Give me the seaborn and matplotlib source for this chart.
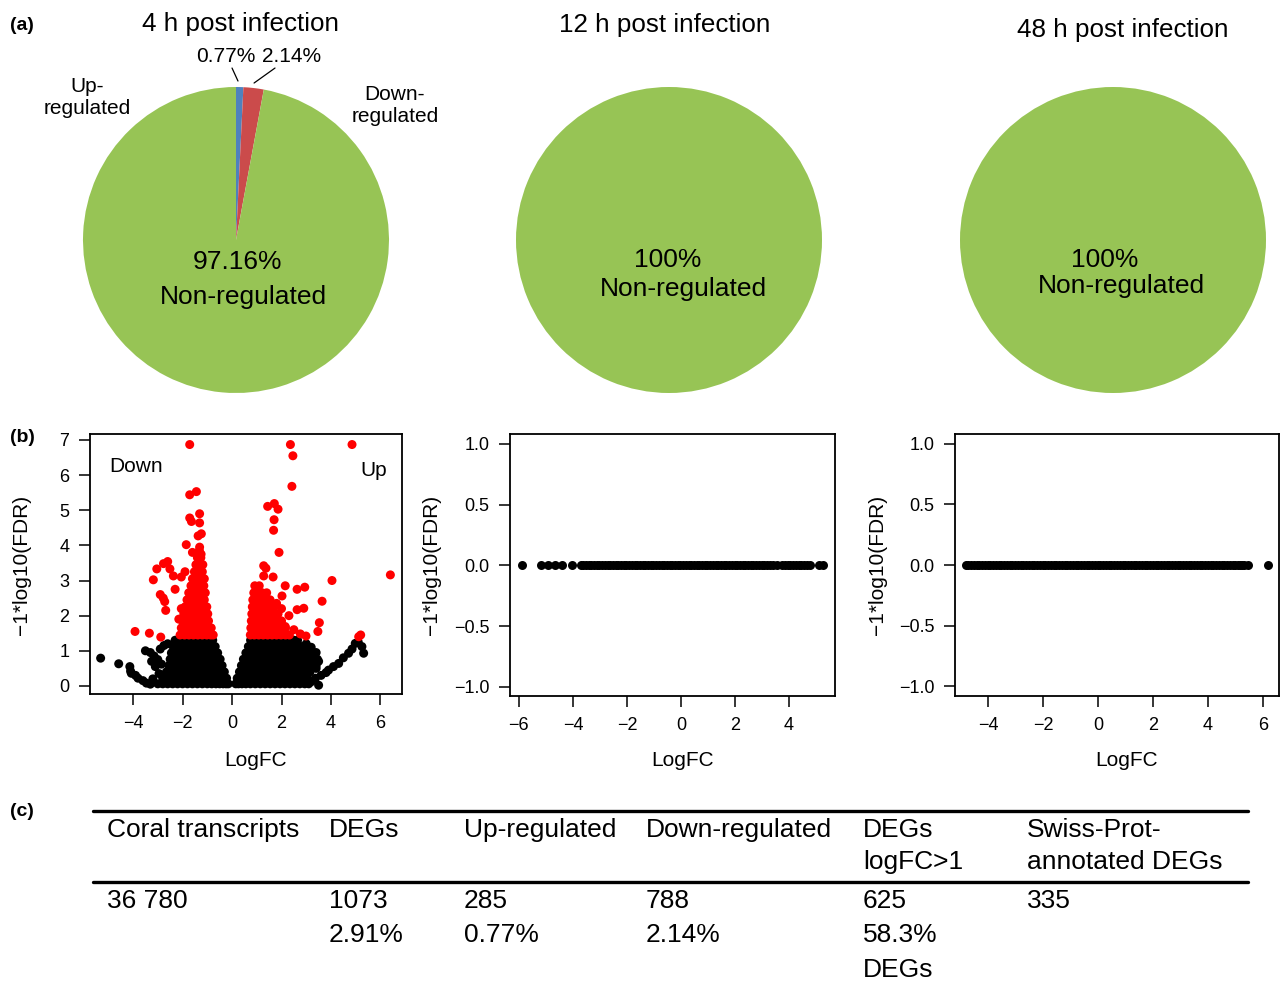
"""
Coral transcriptome response: DEG pies, volcano plots and summary table.
"""
import numpy as np
import pandas as pd
import matplotlib
matplotlib.use('Agg')
import matplotlib.pyplot as plt
import seaborn as sns

# ---- (a) pie data ----
pie_titles = ['4 h post infection', '12 h post infection', '48 h post infection']
pie_4h_pct = [0.77, 2.14, 97.16]          # up, down, non-regulated
pie_12h_pct = [100.0]
pie_48h_pct = [100.0]
pie_colors = ['#4f81bd', '#cb4b4b', '#97c455']

# ---- (b) volcano, 4 h: dense black cloud read row by row (-log10 FDR: logFC values) ----
black_rows = [
    (1.30, [-2.30, -2.10, -1.90, -1.70, -1.50, -1.30, -1.10, -0.94, -0.78,
            0.75, 0.92, 1.10, 1.30, 1.50, 1.70, 1.90, 2.10, 2.30, 2.50, 2.65]),
    (1.12, [-2.38, -2.18, -1.98, -1.78, -1.58, -1.38, -1.18, -0.98, -0.82, -0.68,
            0.66, 0.82, 1.00, 1.20, 1.40, 1.60, 1.80, 2.00, 2.20, 2.40, 2.60, 2.80, 2.95]),
    (0.94, [-2.45, -2.25, -2.05, -1.85, -1.65, -1.45, -1.25, -1.05, -0.88, -0.72, -0.58,
            0.56, 0.72, 0.90, 1.10, 1.30, 1.50, 1.70, 1.90, 2.10, 2.30, 2.50, 2.70, 2.90,
            3.10, 3.30]),
    (0.76, [-2.50, -2.30, -2.10, -1.90, -1.70, -1.50, -1.30, -1.10, -0.92, -0.76, -0.62,
            -0.48, 0.46, 0.62, 0.80, 1.00, 1.20, 1.40, 1.60, 1.80, 2.00, 2.20, 2.40, 2.60,
            2.80, 3.00, 3.20, 3.45]),
    (0.58, [-2.55, -2.35, -2.15, -1.95, -1.75, -1.55, -1.35, -1.15, -0.95, -0.78, -0.62,
            -0.50, -0.40, 0.38, 0.52, 0.68, 0.85, 1.05, 1.25, 1.45, 1.65, 1.85, 2.05, 2.25,
            2.45, 2.65, 2.85, 3.05, 3.25, 3.40]),
    (0.40, [-2.65, -2.45, -2.25, -2.05, -1.85, -1.65, -1.45, -1.25, -1.05, -0.87, -0.70,
            -0.55, -0.42, -0.31, 0.30, 0.43, 0.58, 0.75, 0.95, 1.15, 1.35, 1.55, 1.75, 1.95,
            2.15, 2.35, 2.55, 2.75, 2.95, 3.15]),
    (0.22, [-2.80, -2.60, -2.40, -2.20, -2.00, -1.80, -1.60, -1.40, -1.20, -1.00, -0.82,
            -0.65, -0.50, -0.36, -0.22, 0.21, 0.35, 0.50, 0.68, 0.88, 1.08, 1.28, 1.48,
            1.68, 1.88, 2.08, 2.28, 2.48, 2.68, 2.88, 3.05]),
    (0.06, [-3.00, -2.80, -2.60, -2.40, -2.20, -2.00, -1.80, -1.60, -1.40, -1.20, -1.00,
            -0.82, -0.65, -0.50, -0.36, -0.24, -0.15, 0.15, 0.26, 0.40, 0.56, 0.74, 0.94,
            1.14, 1.34, 1.54, 1.74, 1.94, 2.14, 2.34, 2.54, 2.74, 2.94, 3.10]),
]
# scattered non-significant genes (tails)
black_x = [-5.31, -4.58, -4.13, -4.07, -3.80, -3.46, -4.10, -3.90, -3.60, -3.30,
           -3.50, -3.30, -3.15, -3.00, -2.85, -3.10, -2.90, -2.75, -3.25, -2.60,
           -2.95, -3.20, 3.37, 3.90, 4.31, 4.71, 4.98, 5.25, 5.32, 3.60, 3.80, 4.10,
           4.50, 4.85, 5.10, 3.20, 3.50, 3.00, 3.20, 3.40, 3.50, 3.40]
black_y = [0.79, 0.63, 0.55, 0.36, 0.22, 0.08, 0.42, 0.30, 0.15, 0.05,
           1.00, 0.95, 0.85, 0.75, 0.62, 0.55, 1.05, 1.15, 0.70, 1.20,
           0.35, 0.20, 0.22, 0.45, 0.64, 0.93, 1.21, 1.12, 0.93, 0.30, 0.38, 0.55,
           0.80, 1.05, 1.25, 0.12, 0.02, 1.20, 1.10, 0.95, 0.70, 0.50]

# significant (FDR < 0.05) genes, dense part read row by row
red_rows = [
    (1.45, [-2.10, -1.92, -1.74, -1.56, -1.38, -1.20, -1.02, -0.86, -0.76,
            0.74, 0.90, 1.08, 1.26, 1.44, 1.62, 1.80, 1.98, 2.16, 2.32]),
    (1.65, [-2.05, -1.87, -1.69, -1.51, -1.33, -1.15, -0.98, -0.84,
            0.76, 0.92, 1.10, 1.28, 1.46, 1.64, 1.82, 2.00, 2.16]),
    (1.85, [-2.00, -1.82, -1.64, -1.46, -1.28, -1.10, -0.95,
            0.78, 0.94, 1.12, 1.30, 1.48, 1.66, 1.84, 2.00]),
    (2.05, [-1.95, -1.77, -1.59, -1.41, -1.23, -1.06, -0.98,
            0.80, 0.96, 1.14, 1.32, 1.50, 1.68, 1.86]),
    (2.25, [-1.90, -1.72, -1.54, -1.36, -1.18, -1.02,
            0.82, 0.98, 1.16, 1.34, 1.52, 1.70]),
    (2.45, [-1.82, -1.64, -1.46, -1.28, -1.12, 0.84, 1.00, 1.18, 1.36, 1.54]),
    (2.65, [-1.75, -1.57, -1.39, -1.21, -1.08, 0.88, 1.04, 1.22, 1.40]),
    (2.85, [-1.66, -1.48, -1.30, -1.14, 0.92, 1.10]),
    (3.05, [-1.60, -1.42, -1.26, -1.12]),
    (3.25, [-1.52, -1.36, -1.20]),
    (3.45, [-1.46, -1.30, -1.18]),
    (3.65, [-1.40, -1.26]),
    (3.85, [-1.32]),
]
red_x = [-3.92, -3.34, -2.88, -3.18, -3.04, -2.77, -2.60, -2.51, -2.37, -2.90,
         -2.78, -2.68, -2.72, -2.30, -2.05, -2.15, -1.90, -2.05, -1.85, -1.31,
         -1.37, -1.24, -1.71, -1.64, -1.31, -1.31, -1.71, -1.44, -1.71, -1.60,
         -1.25, 2.36, 4.85, 2.46, 2.42, 1.44, 1.71, 1.86, 1.70, 1.68, 1.90, 1.28,
         1.37, 1.28, 1.66, 6.40, 4.04, 2.15, 2.63, 2.94, 3.64, 2.02, 2.63, 2.90,
         3.53, 3.47, 2.76, 2.99, 5.12, 2.15, 5.20, 2.30, 2.00, 1.80, 2.50]
red_y = [1.55, 1.50, 1.39, 3.02, 3.33, 3.48, 3.54, 3.33, 3.13, 2.60,
         2.50, 2.15, 2.40, 2.75, 2.20, 1.90, 3.25, 3.10, 4.02, 3.95,
         4.27, 4.33, 4.78, 4.68, 4.64, 4.90, 5.44, 5.53, 6.87, 3.80,
         3.75, 6.87, 6.87, 6.55, 5.68, 5.11, 5.19, 5.03, 4.73, 4.43, 3.80, 3.42,
         3.35, 3.13, 3.10, 3.16, 3.00, 2.85, 2.75, 2.81, 2.41, 2.56, 2.17, 2.21,
         1.80, 1.55, 1.48, 1.42, 1.40, 1.69, 1.45, 2.00, 2.20, 2.35, 1.60]

# ---- (b) volcano, 12 h and 48 h: every gene sits at -log10(FDR) = 0 ----
logfc_12h = [-5.88, -5.20, -4.91, -4.67, -4.42, -4.05, -3.72, -3.62, -3.52, -3.42,
             -3.32, -3.22, -3.12, -3.02, -2.92, -2.82, -2.72, -2.62, -2.52, -2.42,
             -2.32, -2.22, -2.12, -2.02, -1.92, -1.82, -1.72, -1.62, -1.52, -1.42,
             -1.32, -1.22, -1.12, -1.02, -0.92, -0.82, -0.72, -0.62, -0.52, -0.42,
             -0.32, -0.22, -0.12, -0.02, 0.08, 0.18, 0.28, 0.38, 0.48, 0.58, 0.68,
             0.78, 0.88, 0.98, 1.08, 1.18, 1.28, 1.38, 1.48, 1.58, 1.68, 1.78, 1.88,
             1.98, 2.08, 2.18, 2.28, 2.38, 2.48, 2.58, 2.68, 2.78, 2.88, 2.98, 3.08,
             3.18, 3.28, 3.40, 3.54, 3.73, 3.85, 3.95, 4.05, 4.15, 4.25, 4.35, 4.45,
             4.55, 4.65, 4.78, 5.09, 5.27]
logfc_48h = [-4.81, -4.71, -4.61, -4.51, -4.41, -4.31, -4.21, -4.11, -4.01, -3.91,
             -3.81, -3.71, -3.61, -3.51, -3.41, -3.31, -3.21, -3.11, -3.01, -2.91,
             -2.81, -2.71, -2.61, -2.51, -2.41, -2.31, -2.21, -2.11, -2.01, -1.91,
             -1.81, -1.71, -1.61, -1.51, -1.41, -1.31, -1.21, -1.11, -1.01, -0.91,
             -0.81, -0.71, -0.61, -0.51, -0.41, -0.31, -0.21, -0.11, -0.01, 0.09,
             0.19, 0.29, 0.39, 0.49, 0.59, 0.69, 0.79, 0.89, 0.99, 1.09, 1.19, 1.29,
             1.39, 1.49, 1.59, 1.69, 1.79, 1.89, 1.99, 2.09, 2.19, 2.29, 2.39, 2.49,
             2.59, 2.69, 2.79, 2.89, 2.99, 3.09, 3.19, 3.29, 3.39, 3.49, 3.59, 3.69,
             3.79, 3.89, 3.99, 4.09, 4.19, 4.29, 4.39, 4.49, 4.59, 4.69, 4.79, 4.90,
             4.98, 5.08, 5.16, 5.25, 5.32, 5.47, 6.19]

# ---- (c) summary table ----
table_header = ['Coral transcripts', 'DEGs', 'Up-regulated', 'Down-regulated',
                'DEGs\nlogFC>1', 'Swiss-Prot-\nannotated DEGs']
table_values = ['36 780', '1073\n2.91%', '285\n0.77%', '788\n2.14%',
                '625\n58.3%\nDEGs', '335']

W, H = 1280, 985


def fx(px):
    return px / W


def fy(py):
    return 1 - py / H


def rows_to_frame(rows, xs, ys, status):
    rx = [x for y, row in rows for x in row] + list(xs)
    ry = [y for y, row in rows for _ in row] + list(ys)
    return pd.DataFrame({'logFC': rx, 'nlfdr': ry, 'status': status})


def main():
    sns.set_style('ticks')
    plt.rcParams['font.family'] = ['Liberation Sans', 'DejaVu Sans']
    plt.rcParams['axes.unicode_minus'] = True
    plt.rcParams['text.color'] = 'black'
    plt.rcParams['xtick.color'] = 'black'
    plt.rcParams['ytick.color'] = 'black'
    plt.rcParams['axes.labelcolor'] = 'black'

    fig = plt.figure(figsize=(W / 100, H / 100), dpi=100)

    def add_axes_px(left, top, right, bottom):
        return fig.add_axes([fx(left), fy(bottom), (right - left) / W, (bottom - top) / H])

    # ---------------- (a) pies ----------------
    R = 153
    pie_centers = [(236, 240), (669, 240), (1113, 240)]
    pie_values = [pie_4h_pct, pie_12h_pct, pie_48h_pct]
    pie_axes = []
    for (cx, cy), vals in zip(pie_centers, pie_values):
        ax = add_axes_px(cx - 1.1 * R, cy - 1.1 * R, cx + 1.1 * R, cy + 1.1 * R)
        cols = pie_colors if len(vals) == 3 else [pie_colors[2]]
        ax.pie(vals, colors=cols, startangle=90, counterclock=False,
               wedgeprops=dict(linewidth=0))
        ax.set_xlim(-1.1, 1.1)
        ax.set_ylim(-1.1, 1.1)
        ax.set_aspect('equal')
        ax.axis('off')
        pie_axes.append(ax)

    # leader lines for the small slices
    ax0 = pie_axes[0]
    ax0.plot([-0.026, 0.013], [1.124, 1.039], color='black', lw=0.9, clip_on=False)
    ax0.plot([0.255, 0.118], [1.124, 1.026], color='black', lw=0.9, clip_on=False)

    for (tx, ty), title in zip([(240, 24), (665, 25), (1123, 30)], pie_titles):
        fig.text(fx(tx), fy(ty), title, ha='center', va='center', fontsize=18.7)

    fig.text(fx(226), fy(56), f'{pie_4h_pct[0]:.2f}%', ha='center', va='center', fontsize=15)
    fig.text(fx(292), fy(56), f'{pie_4h_pct[1]:.2f}%', ha='center', va='center', fontsize=15)
    fig.text(fx(87), fy(97), 'Up-\nregulated', ha='center', va='center', fontsize=15,
             linespacing=1.2)
    fig.text(fx(395), fy(105), 'Down-\nregulated', ha='center', va='center', fontsize=15,
             linespacing=1.2)
    fig.text(fx(238), fy(262), f'{pie_4h_pct[2]:.2f}%', ha='center', va='center', fontsize=19)
    fig.text(fx(243), fy(297), 'Non-regulated', ha='center', va='center', fontsize=19)
    fig.text(fx(668), fy(260), f'{pie_12h_pct[0]:.0f}%', ha='center', va='center', fontsize=19)
    fig.text(fx(683), fy(289), 'Non-regulated', ha='center', va='center', fontsize=19)
    fig.text(fx(1105), fy(260), f'{pie_48h_pct[0]:.0f}%', ha='center', va='center', fontsize=19)
    fig.text(fx(1121), fy(286), 'Non-regulated', ha='center', va='center', fontsize=19)

    # ---------------- (b) volcano plots ----------------
    volcano_df = pd.concat([
        rows_to_frame(black_rows, black_x, black_y, 'ns'),
        rows_to_frame(red_rows, red_x, red_y, 'sig'),
    ], ignore_index=True)

    panels = [
        dict(box=(90, 434, 402, 694), xlim=(-5.74, 6.87), ylim=(-0.23, 7.17),
             xticks=[-4, -2, 0, 2, 4, 6], yticks=list(range(8)), ylab_x=22),
        dict(box=(510, 434, 835, 696), xlim=(-6.33, 5.70), ylim=(-1.074, 1.08),
             xticks=[-6, -4, -2, 0, 2, 4], yticks=[-1.0, -0.5, 0.0, 0.5, 1.0], ylab_x=432),
        dict(box=(955, 434, 1279, 696), xlim=(-5.20, 6.58), ylim=(-1.08, 1.08),
             xticks=[-4, -2, 0, 2, 4, 6], yticks=[-1.0, -0.5, 0.0, 0.5, 1.0], ylab_x=878),
    ]
    flat_12h = pd.DataFrame({'logFC': logfc_12h, 'nlfdr': 0.0})
    flat_48h = pd.DataFrame({'logFC': logfc_48h, 'nlfdr': 0.0})

    for i, p in enumerate(panels):
        left, top, right, bottom = p['box']
        ax = add_axes_px(left, top, right, bottom)
        if i == 0:
            sns.scatterplot(data=volcano_df, x='logFC', y='nlfdr', hue='status',
                            palette={'ns': 'black', 'sig': '#ff0000'}, s=42,
                            linewidth=0, legend=False, ax=ax)
        else:
            sns.scatterplot(data=flat_12h if i == 1 else flat_48h, x='logFC', y='nlfdr',
                            color='black', s=42, linewidth=0, ax=ax)
        ax.set_xlim(*p['xlim'])
        ax.set_ylim(*p['ylim'])
        ax.set_xticks(p['xticks'])
        ax.set_yticks(p['yticks'])
        if i > 0:
            ax.set_yticklabels([f'{v:.1f}'.replace('-', '\u2212') for v in p['yticks']])
        ax.set_xlabel('')
        ax.set_ylabel('')
        for sp in ax.spines.values():
            sp.set_color('black')
            sp.set_linewidth(1.3)
        ax.tick_params(direction='out', length=8, width=1.1, color='black',
                       labelcolor='black', labelsize=13, pad=7)
        cx = (left + right) / 2
        fig.text(fx(cx + 10), fy(761), 'LogFC', ha='center', va='center', fontsize=15)
        fig.text(fx(p['ylab_x']), fy(565), '\u22121*log10(FDR)', ha='center', va='center',
                 rotation=90, fontsize=15)

    fig.text(fx(136), fy(466), 'Down', ha='center', va='center', fontsize=15)
    fig.text(fx(374), fy(471), 'Up', ha='center', va='center', fontsize=15)

    # ---------------- (c) table ----------------
    for y_line in (811, 882):
        fig.add_artist(plt.Line2D([fx(93), fx(1248)], [fy(y_line), fy(y_line)],
                                  color='black', lw=2.4, transform=fig.transFigure))
    col_x = [107, 329, 464, 646, 863, 1027]
    header_y = [830, 862]
    value_y = [901, 935, 970]
    for x, head, val in zip(col_x, table_header, table_values):
        for y, line in zip(header_y, head.split('\n')):
            fig.text(fx(x), fy(y), line, ha='left', va='center', fontsize=19)
        for y, line in zip(value_y, val.split('\n')):
            fig.text(fx(x), fy(y), line, ha='left', va='center', fontsize=19)

    # panel letters
    for lab, y in zip(['(a)', '(b)', '(c)'], [25, 437, 812]):
        fig.text(fx(22), fy(y), lab, ha='center', va='center', fontsize=14,
                 fontweight='bold')

    fig.savefig('out.png', dpi=100)
    plt.close(fig)


if __name__ == '__main__':
    main()
